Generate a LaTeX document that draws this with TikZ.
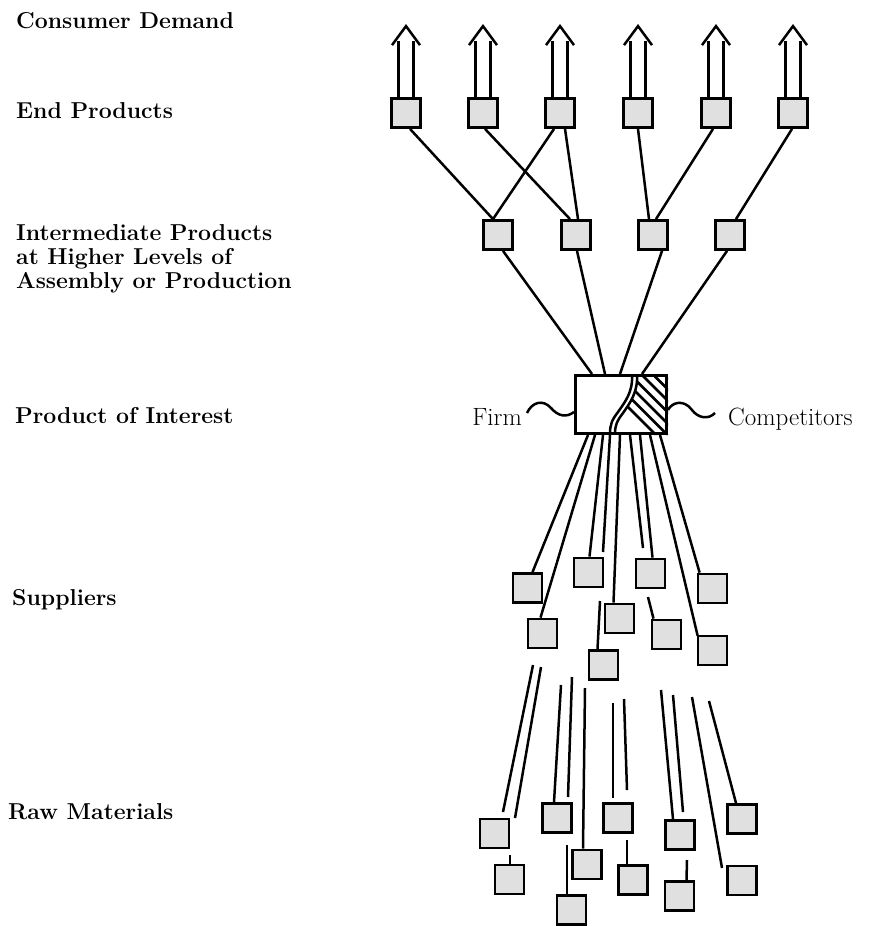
\documentclass[tikz,border=0pt]{standalone}
\usetikzlibrary{calc}
\begin{document}
\begin{tikzpicture}[x=1pt,y=-1pt,
  item/.style={draw, line width=2.8pt, fill=black!12, minimum size=29pt, inner sep=0pt},
  conn/.style={line width=2.5pt},
  lbl/.style={anchor=base west, inner sep=0pt, font=\fontsize{23}{25}\selectfont\bfseries},
  side/.style={inner sep=0pt, font=\fontsize{25}{27}\selectfont}]
\useasboundingbox (0,0) rectangle (873,926);

% level labels
\node[lbl] (tDemand) at (16,28) {Consumer Demand};
\node[lbl] (tEnd) at (16,118) {End Products};
\node[lbl] (tInt1) at (16,240) {Intermediate Products};
\node[lbl] (tInt2) at (16,264) {at Higher Levels of};
\node[lbl] (tInt3) at (16,288) {Assembly or Production};
\node[lbl] (tProd) at (15,423) {Product of Interest};
\node[lbl] (tSup) at (12,605) {Suppliers};
\node[lbl] (tRaw) at (8,819) {Raw Materials};

% end products
\foreach \n/\x in {E1/406,E2/483,E3/560,E4/638,E5/716,E6/793}
  \node[item] (\n) at (\x,113) {};
% intermediate products
\foreach \n/\x in {I1/498,I2/576,I3/653,I4/730}
  \node[item] (\n) at (\x,235) {};
% suppliers
\foreach \n/\x/\y in {S1/527.5/588,S2/542.5/633.5,S3/588.5/572.5,S4/619.5/618.5,
  S5/603.5/665,S6/650.5/573.5,S7/666.5/634.5,S8/712.5/588.5,S9/712.5/650.5}
  \node[item] (\n) at (\x,\y) {};
% raw materials
\foreach \n/\x/\y in {R1/494.5/833.5,R2/509.5/879.5,R3/557/818,R4/571.5/910,
  R5/587/864.5,R6/618/818,R7/633/880,R8/680/835,R9/679.5/896,R10/742/819,R11/742/880.5}
  \node[item] (\n) at (\x,\y) {};

% consumer demand arrows
\foreach \n in {E1,E2,E3,E4,E5,E6} {
  \draw[conn] ([xshift=-7.5]\n.north) -- ++(0,-56);
  \draw[conn] ([xshift=7.5]\n.north) -- ++(0,-56);
  \draw[conn, line join=miter] ([xshift=-14,yshift=52]\n.north) -- ([yshift=71]\n.north) -- ([xshift=14,yshift=52]\n.north);
}

% end products to intermediate products
\draw[conn] ([xshift=4]E1.south) -- ([xshift=-5]I1.north);
\draw[conn] ([xshift=2]E2.south) -- ([xshift=-6]I2.north);
\draw[conn] ([xshift=-6]E3.south) -- ([xshift=-5]I1.north);
\draw[conn] ([xshift=5]E3.south) -- ([xshift=2]I2.north);
\draw[conn] ([xshift=0]E4.south) -- ([xshift=-4]I3.north);
\draw[conn] ([xshift=-3]E5.south) -- ([xshift=3]I3.north);
\draw[conn] ([xshift=-1]E6.south) -- ([xshift=6]I4.north);

% product of interest
\node[draw, line width=2.8pt, minimum width=91.2pt, minimum height=58.2pt, inner sep=0pt] (P) at (621,404.5) {};
% competitors' share, hatched
\begin{scope}
  \clip (637,374) .. controls (638,392) and (630,403) .. (623,413)
        .. controls (617,421) and (615,425) .. (615,435) -- (668,435) -- (668,374) -- cycle;
  \foreach \k in {0,...,10}
    \draw[line width=2.6pt] (585+11.5*\k,364) -- ++(80,80);
\end{scope}
\draw[conn] (637,375) .. controls (638,392) and (630,403) .. (623,413)
        .. controls (617,421) and (615,425) .. (615,434);
% firm's share boundary
\draw[conn] (632,375) .. controls (633,392) and (625,402) .. (618,412)
        .. controls (612,420) and (610,424) .. (610,434);
\node[draw, line width=2.8pt, minimum width=91.2pt, minimum height=58.2pt, inner sep=0pt] at (P.center) {};

% firm and competitors labels
\node[side, anchor=base east] (tFirm) at (522,425) {Firm};
\node[side, anchor=base west] (tComp) at (728,425) {Competitors};
\draw[conn] (527,413) .. controls (532,402) and (543,399) .. (551,408)
   .. controls (558,416) and (566,418) .. (P.west |- 0,412);
\draw[conn] (P.east |- 0,410) .. controls (672,402) and (684,399) .. (692,410)
   .. controls (698,418) and (708,420) .. (715,413);

% intermediate products to product of interest
\draw[conn] ([xshift=5]I1.south) -- ([xshift=-29]P.north);
\draw[conn] ([xshift=1]I2.south) -- ([xshift=-16]P.north);
\draw[conn] ([xshift=9]I3.south) -- ([xshift=-1]P.north);
\draw[conn] ([xshift=-3]I4.south) -- ([xshift=21]P.north);

% product of interest to suppliers
\coordinate (g1) at (603,552);
\coordinate (g2) at (643,548);
\coordinate (h1) at (600,601);
\coordinate (h2) at (648,597);
\draw[conn] ([xshift=-33]P.south) -- ([xshift=5]S1.north);
\draw[conn] ([xshift=-26]P.south) -- ([xshift=-2]S2.north);
\draw[conn] ([xshift=-18]P.south) -- ([xshift=1]S3.north);
\draw[conn] ([xshift=-11]P.south) -- (g1);
\draw[conn] ([xshift=-1]P.south) -- ([xshift=-6]S4.north);
\draw[conn] ([xshift=9]P.south) -- (g2);
\draw[conn] ([xshift=19]P.south) -- ([xshift=2]S6.north);
\draw[conn] ([xshift=29]P.south) -- ([xshift=1,yshift=-1]S9.north west);
\draw[conn] ([xshift=39]P.south) -- ([xshift=3]S8.north west);
\draw[conn] (h1) -- ([xshift=-6]S5.north);
\draw[conn] (h2) -- ([xshift=-13]S7.north);

% suppliers to raw materials
\coordinate (u1) at (533,665);  \coordinate (v1) at (503,812);
\coordinate (u2) at (541,667);  \coordinate (v2) at (515,818);
\coordinate (u3) at (561,685);
\coordinate (u4) at (572,677);  \coordinate (v4) at (568,797);
\coordinate (u5) at (585,688);
\coordinate (u6) at (613,703);  \coordinate (v6) at (613,798);
\coordinate (u7) at (624,699);  \coordinate (v7) at (627,790);
\coordinate (u8) at (661,690);
\coordinate (u9) at (673,695);  \coordinate (v9) at (683,812);
\coordinate (u10) at (692,697); \coordinate (v10) at (722,868);
\coordinate (u11) at (709,701);
\coordinate (w2) at (510,855);
\coordinate (w4) at (567,845);
\coordinate (w7) at (627,840);
\coordinate (w9) at (687,860);
\draw[conn] (u1) -- (v1);
\draw[conn] (u2) -- (v2);
\draw[conn] (u3) -- ([xshift=-3]R3.north);
\draw[conn] (u4) -- (v4);
\draw[conn] (u5) -- ([xshift=-4]R5.north);
\draw[conn] (u6) -- (v6);
\draw[conn] (u7) -- (v7);
\draw[conn] (u8) -- ([xshift=-7]R8.north);
\draw[conn] (u9) -- (v9);
\draw[conn] (u10) -- (v10);
\draw[conn] (u11) -- ([xshift=-6]R10.north);
\draw[conn] (w2) -- ([xshift=0.5]R2.north);
\draw[conn] (w4) -- ([xshift=-4.5]R4.north);
\draw[conn] (w7) -- ([xshift=-6]R7.north);
\draw[conn] (w9) -- ([xshift=7]R9.north);
\end{tikzpicture}
\end{document}
